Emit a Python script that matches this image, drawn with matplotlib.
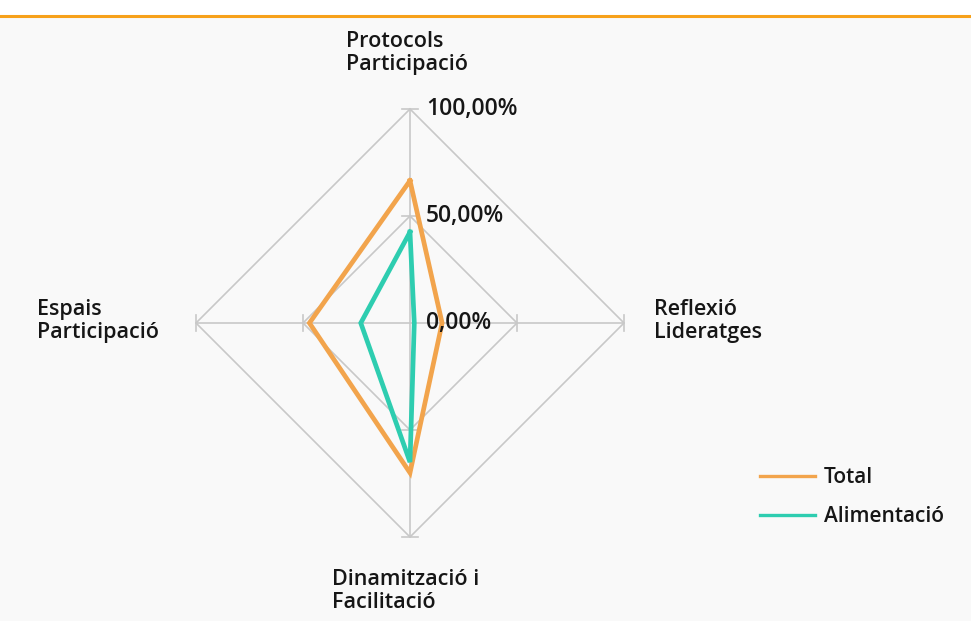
import numpy as np
import matplotlib.pyplot as plt

# Dades del gràfic de radar
categories = ["Protocols\nParticipació", "Reflexió\nLideratges",
              "Dinamització i\nFacilitació", "Espais\nParticipació"]
total = [0.665, 0.15, 0.70, 0.47]
alimentacio = [0.425, 0.02, 0.65, 0.23]
ring_levels = [0.0, 0.5, 1.0]
ring_labels = ["0,00%", "50,00%", "100,00%"]
series_names = ["Total", "Alimentació"]

COL_TOTAL = "#f2a44c"
COL_ALIM = "#2ecdb0"
COL_GRID = "#c8c8c8"
TXT = "#161616"

plt.rcParams["font.family"] = ["Open Sans", "DejaVu Sans"]

W, H, DPI = 971, 621, 100
cx, cy, R = 410, 323, 214  # centre i radi en píxels

fig = plt.figure(figsize=(W / DPI, H / DPI), dpi=DPI, facecolor="#f9f9f9")
ax = fig.add_axes([0, 0, 1, 1])
ax.set_xlim(-cx / R, (W - cx) / R)
ax.set_ylim(-(H - cy) / R, cy / R)
ax.set_axis_off()

# franja superior
fig.patches.append(plt.Rectangle((0, 1 - 15 / H), 1, 15 / H, transform=fig.transFigure,
                                 facecolor="white", edgecolor="none", zorder=0))
fig.add_artist(plt.Line2D([0, 1], [1 - 16 / H, 1 - 16 / H], transform=fig.transFigure,
                          color="#f7a11a", lw=2.2))

# angles: dalt, dreta, baix, esquerra
angles = np.pi / 2 - np.arange(len(categories)) * 2 * np.pi / len(categories)
ux, uy = np.cos(angles), np.sin(angles)

# graella
for lv in ring_levels[1:]:
    xs = np.append(ux * lv, ux[0] * lv)
    ys = np.append(uy * lv, uy[0] * lv)
    ax.plot(xs, ys, color=COL_GRID, lw=1.2, zorder=1)
tick = 8 / R
for i in range(len(categories)):
    ax.plot([0, ux[i]], [0, uy[i]], color=COL_GRID, lw=1.2, zorder=1)
    for lv in ring_levels[1:]:
        px, py = ux[i] * lv, uy[i] * lv
        ax.plot([px - uy[i] * tick, px + uy[i] * tick], [py + ux[i] * tick, py - ux[i] * tick],
                color=COL_GRID, lw=1.2, zorder=1)

# etiquetes de l'eix
for lv, lab in zip(ring_levels, ring_labels):
    ax.text(16 / R, lv, lab, ha="left", va="center", fontsize=16.5, fontweight="semibold",
            color=TXT, zorder=5)

# sèries
for vals, col, name in [(total, COL_TOTAL, series_names[0]), (alimentacio, COL_ALIM, series_names[1])]:
    v = np.array(vals)
    xs = np.append(ux * v, ux[0] * v[0])
    ys = np.append(uy * v, uy[0] * v[0])
    ax.plot(xs, ys, color=col, lw=3.4, label=name, zorder=3, solid_joinstyle="miter")

# categories (vora esquerra del bloc, centre vertical)
label_pos = [(346 - cx, cy - 53), (654 - cx, cy - 321), (332 - cx, cy - 591), (37 - cx, cy - 321)]
for lab, (px, py) in zip(categories, label_pos):
    ax.text(px / R, py / R, lab, ha="left", va="center", multialignment="left",
            fontsize=15.5, fontweight="semibold", color=TXT, linespacing=1.12)

leg = ax.legend(loc="upper left", bbox_to_anchor=(752 / W, 1 - 459 / H), frameon=False,
                fontsize=15, handlelength=2.6, handletextpad=0.45, labelspacing=0.85,
                borderaxespad=0)
for t in leg.get_texts():
    t.set_fontweight("semibold")
    t.set_color(TXT)
for l in leg.get_lines():
    l.set_linewidth(2.4)

fig.savefig("out.png", dpi=DPI, facecolor=fig.get_facecolor())
